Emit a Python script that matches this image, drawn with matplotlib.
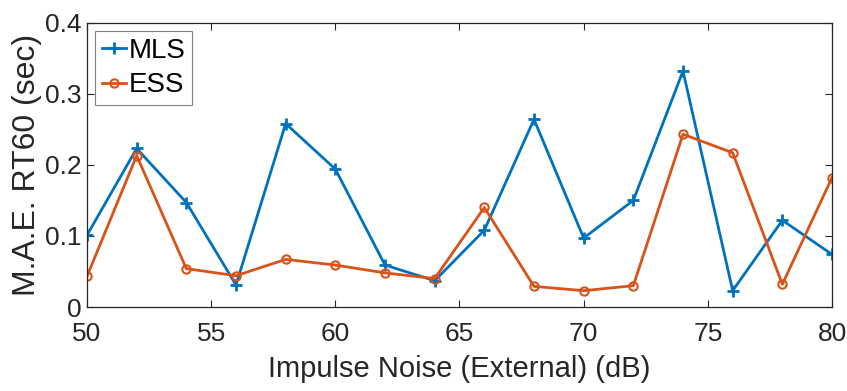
import matplotlib
matplotlib.use("Agg")
import matplotlib.pyplot as plt

noise_db = [50, 52, 54, 56, 58, 60, 62, 64, 66, 68, 70, 72, 74, 76, 78, 80]
mls = [0.101, 0.223, 0.147, 0.031, 0.258, 0.194, 0.059, 0.037,
       0.108, 0.264, 0.097, 0.150, 0.332, 0.023, 0.122, 0.074]
ess = [0.043, 0.213, 0.054, 0.044, 0.067, 0.059, 0.048, 0.040,
       0.140, 0.029, 0.023, 0.030, 0.243, 0.217, 0.032, 0.182]

plt.rcParams['font.family'] = ['Liberation Sans', 'DejaVu Sans']

fig = plt.figure(figsize=(8.47, 3.91), dpi=100)
ax = fig.add_axes([0.1027, 0.2148, 0.8796, 0.7272])

ax.plot(noise_db, mls, color='#0072BD', lw=2, marker='+', ms=9, mew=2, label='MLS')
ax.plot(noise_db, ess, color='#D95319', lw=2, marker='o', ms=6, mew=1.5,
        mfc='none', label='ESS')

ax.set_xlim(50, 80)
ax.set_ylim(0, 0.4)
ax.set_xticks([50, 55, 60, 65, 70, 75, 80])
ax.set_yticks([0, 0.1, 0.2, 0.3, 0.4])
ax.set_yticklabels(['0', '0.1', '0.2', '0.3', '0.4'])
ax.tick_params(direction='in', top=True, right=True, length=5, width=0.8,
               labelsize=19, colors='#262626')
ax.tick_params(axis='x', pad=11)
ax.tick_params(axis='y', pad=4)
for s in ax.spines.values():
    s.set_color('#262626')
    s.set_linewidth(0.9)

ax.set_xlabel('Impulse Noise (External) (dB)', fontsize=21, color='#262626', labelpad=6)
ax.set_ylabel('M.A.E. RT60 (sec)', fontsize=23, color='#262626', labelpad=2)

leg = ax.legend(loc='upper left', fontsize=20, handlelength=0.85, handletextpad=0.1,
                borderpad=0.25, labelspacing=0.3, fancybox=False, framealpha=1,
                borderaxespad=0.3)
leg.get_frame().set_edgecolor('#808080')
leg.get_frame().set_linewidth(0.8)

fig.savefig('out.png', dpi=100)
